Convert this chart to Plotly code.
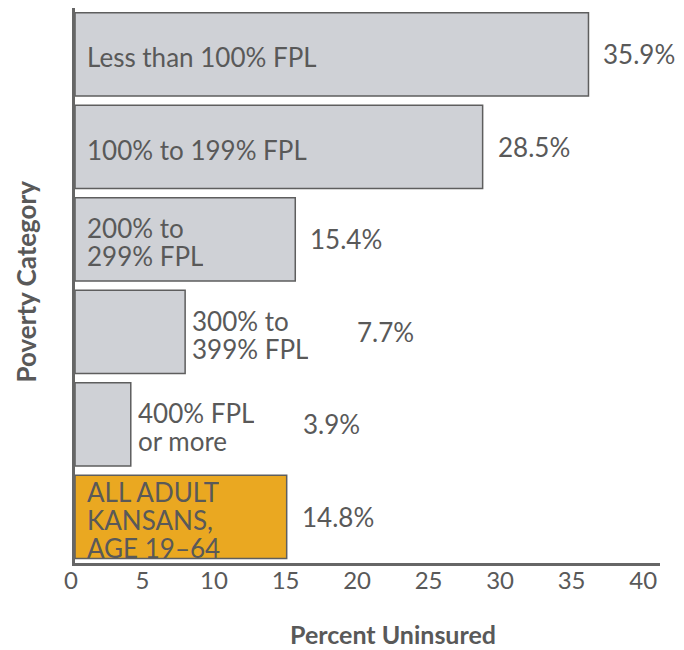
import plotly.graph_objects as go

# Data
categories = ["Less than 100% FPL", "100% to 199% FPL", "200% to<br>299% FPL",
              "300% to<br>399% FPL", "400% FPL<br>or more",
              "ALL ADULT<br>KANSANS,<br>AGE 19–64"]
uninsured = [35.9, 28.5, 15.4, 7.7, 3.9, 14.8]
value_labels = ["35.9%", "28.5%", "15.4%", "7.7%", "3.9%", "14.8%"]
label_inside = [True, True, True, False, False, True]
tick_values = [0, 5, 10, 15, 20, 25, 30, 35, 40]

TEXT = "#595959"
FONT = "Lato"
colors = ["#cfd1d6"] * 5 + ["#eaa821"]
LINE_H = 28  # tight line spacing of the bar labels

fig = go.Figure(go.Bar(
    x=uninsured, y=categories, orientation="h",
    marker=dict(color=colors, line=dict(color="#5e5e5e", width=1.5)),
    hoverinfo="skip",
))

annotations = []
for cat, val, vlab, inside in zip(categories, uninsured, value_labels, label_inside):
    # category label, one annotation per line so the spacing stays tight
    lines = cat.split("<br>")
    n = len(lines)
    for i, line in enumerate(lines):
        annotations.append(dict(
            x=0 if inside else val, y=cat, xref="x", yref="y",
            text=line, showarrow=False, xanchor="left", yanchor="middle",
            height=LINE_H, valign="middle",
            xshift=10 if inside else 5, yshift=-3 - (i - (n - 1) / 2) * LINE_H,
            font=dict(family=FONT, size=26, color=TEXT),
        ))
    # percent label
    annotations.append(dict(
        x=val, y=cat, xref="x", yref="y",
        text=vlab, showarrow=False, xanchor="left", yanchor="middle",
        xshift=13 if inside else 170, yshift=0,
        font=dict(family=FONT, size=26, color=TEXT),
    ))

# axis titles
annotations.append(dict(
    x=0.5, y=0, xref="paper", yref="paper", text="<b>Percent Uninsured</b>",
    showarrow=False, xanchor="center", yanchor="middle", xshift=25, yshift=-71,
    font=dict(family=FONT, size=25, color=TEXT),
))
annotations.append(dict(
    x=0, y=0.5, xref="paper", yref="paper", text="<b>Poverty Category</b>",
    showarrow=False, textangle=-90, xanchor="center", yanchor="middle",
    xshift=-50, yshift=4,
    font=dict(family=FONT, size=26, color=TEXT),
))

# the page body adds an 8px margin, so the figure is 8px smaller each way
fig.update_layout(
    width=676, height=642,
    margin=dict(l=67, r=24, t=0, b=87),
    paper_bgcolor="white", plot_bgcolor="white",
    bargap=0.1, showlegend=False,
    annotations=annotations,
    xaxis=dict(range=[0, 40.9], tickvals=tick_values, showgrid=False, zeroline=False,
               showline=True, linecolor="#666666", linewidth=2.5, ticks="",
               ticklabelstandoff=-6, ticklabelshift=-4,
               tickfont=dict(family=FONT, size=24, color=TEXT)),
    yaxis=dict(autorange="reversed", showticklabels=False, showgrid=False,
               zeroline=False, showline=True, linecolor="#666666", linewidth=2.5,
               ticks=""),
)

fig.write_html("out.html")
